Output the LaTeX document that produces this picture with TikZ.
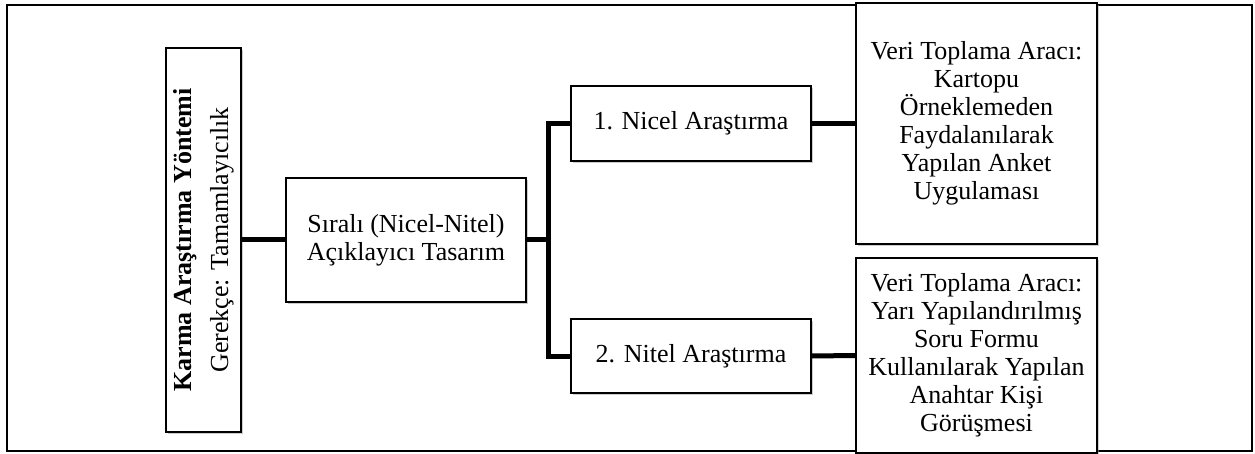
\documentclass[tikz,border=0pt]{standalone}
\usepackage{fontspec}
\setmainfont{Liberation Serif}
\usetikzlibrary{shadows}
\definecolor{shade1}{rgb}{0.6,0.6,0.6}

\begin{document}
\begin{tikzpicture}[x=1pt,y=-1pt,
  box/.style={draw, line width=1.4pt, fill=white, inner sep=0pt, align=center,
    font=\fontsize{26}{28}\selectfont,
    drop shadow={shadow xshift=1.5pt, shadow yshift=-2pt, fill=shade1, opacity=0.5}},
  link/.style={line width=5pt, line join=miter}]
\useasboundingbox (0,0) rectangle (1255,454);
\draw[line width=2pt] (7,5) rectangle (1252,451);

% rotated, so south is the right side
\node[box, rotate=90, minimum width=384pt, minimum height=75pt] (kar) at (203.5,240)
  {\textbf{Karma Araştırma Yöntemi}\\[9pt] Gerekçe: Tamamlayıcılık};
\node[box, minimum width=240pt, minimum height=124pt] (sir) at (406,240)
  {Sıralı (Nicel-Nitel)\\ Açıklayıcı Tasarım};
\node[box, minimum width=240pt, minimum height=75pt] (nic) at (691,123.5) {1. Nicel Araştırma};
\node[box, minimum width=240pt, minimum height=74pt] (nit) at (691,356) {2. Nitel Araştırma};
\node[box, minimum width=241pt, minimum height=241pt] (ver1) at (976.5,123.5)
  {Veri Toplama Aracı:\\ Kartopu\\ Örneklemeden\\ Faydalanılarak\\ Yapılan Anket\\ Uygulaması};
\node[box, minimum width=241pt, minimum height=195pt] (ver2) at (976.5,355.5)
  {Veri Toplama Aracı:\\ Yarı Yapılandırılmış\\ Soru Formu\\ Kullanılarak Yapılan\\ Anahtar Kişi\\ Görüşmesi};

\coordinate (bus) at (548,240);
\draw[link] (kar.south) -- (sir.west);
\draw[link] (sir.east) -- (bus);
\draw[link] (nic.west) -| (bus) |- (nit.west);
\foreach \a/\b in {nic/ver1, nit/ver2}
{
\draw[link] (\a.east) -- (\b.west);
}
\end{tikzpicture}
\end{document}
